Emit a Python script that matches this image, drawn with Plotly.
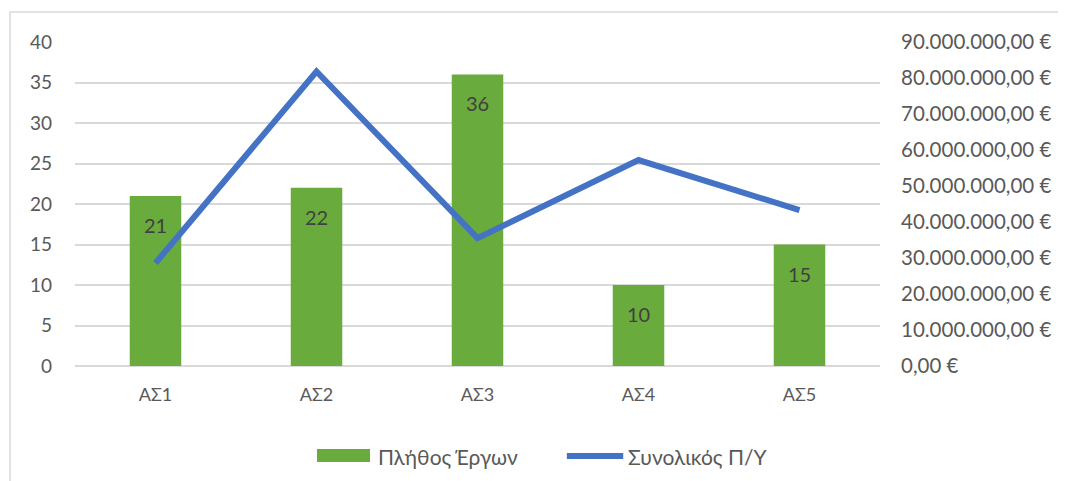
import plotly.graph_objects as go

# data
categories = ['ΑΣ1', 'ΑΣ2', 'ΑΣ3', 'ΑΣ4', 'ΑΣ5']
project_count = [21, 22, 36, 10, 15]
total_budget = [28600000, 81800000, 35500000, 57200000, 43300000]
bar_name = 'Πλήθος Έργων'
line_name = 'Συνολικός Π/Υ'

FONT = 'Lato, "Open Sans", sans-serif'
GRID = '#d9d9d9'
TXT = '#595959'
GREEN = '#6aab3d'
BLUE = '#4472c4'

fig = go.Figure()

fig.add_trace(go.Bar(
    x=categories, y=project_count, name=bar_name,
    marker=dict(color=GREEN, line=dict(width=0)),
    showlegend=False, yaxis='y'
))

fig.add_trace(go.Scatter(
    x=categories, y=total_budget, name=line_name,
    mode='lines', line=dict(color=BLUE, width=6),
    showlegend=False, yaxis='y2'
))

# data labels a bit below the bar tops
annotations = [dict(x=c, y=v, xref='x', yref='y', text=str(v), showarrow=False,
                    yshift=-29, font=dict(size=20, color='#404040'))
               for c, v in zip(categories, project_count)]

# hand-made legend below the plot
annotations += [
    dict(x=0.3739, y=-0.278, xref='paper', yref='paper', text=bar_name, showarrow=False,
         xanchor='left', yanchor='middle', font=dict(size=21, color=TXT)),
    dict(x=0.684, y=-0.278, xref='paper', yref='paper', text=line_name, showarrow=False,
         xanchor='left', yanchor='middle', font=dict(size=21, color=TXT)),
]
shapes = [
    dict(type='rect', xref='paper', yref='paper', x0=0.3006, x1=0.3665, y0=-0.296, y1=-0.256,
         fillcolor=GREEN, line=dict(width=0)),
    dict(type='line', xref='paper', yref='paper', x0=0.611, x1=0.681, y0=-0.278, y1=-0.278,
         line=dict(color=BLUE, width=6)),
    # chart frame
    dict(type='rect', xref='paper', yref='paper', x0=-0.0807, x1=1.236, y0=-0.37, y1=1.0926,
         line=dict(color='#d9d9d9', width=1.5), fillcolor='rgba(0,0,0,0)', layer='below'),
]

fig.update_layout(
    width=1058, height=473,
    margin=dict(l=67, r=186, t=34, b=115, autoexpand=False),
    paper_bgcolor='white', plot_bgcolor='white',
    font=dict(family=FONT, size=18, color=TXT),
    separators=',.',
    bargap=0.68,
    showlegend=False,
    xaxis=dict(showgrid=False, showline=False, ticks='', ticklabelstandoff=16,
               tickfont=dict(size=18, color=TXT), automargin=False),
    yaxis=dict(range=[0, 40], dtick=5, showgrid=True, gridcolor=GRID, gridwidth=1.5,
               zeroline=True, zerolinecolor=GRID, zerolinewidth=1.5, automargin=False,
               ticks='', ticklabelstandoff=22, tickfont=dict(size=19, color=TXT)),
    yaxis2=dict(range=[0, 90000000], dtick=10000000, overlaying='y', side='right',
                showgrid=False, zeroline=False, tickformat=',.2f', ticksuffix=' €',
                automargin=False,
                ticks='', ticklabelstandoff=20, tickfont=dict(size=20.5, color=TXT)),
    annotations=annotations,
    shapes=shapes,
)

fig.write_html("out.html")
